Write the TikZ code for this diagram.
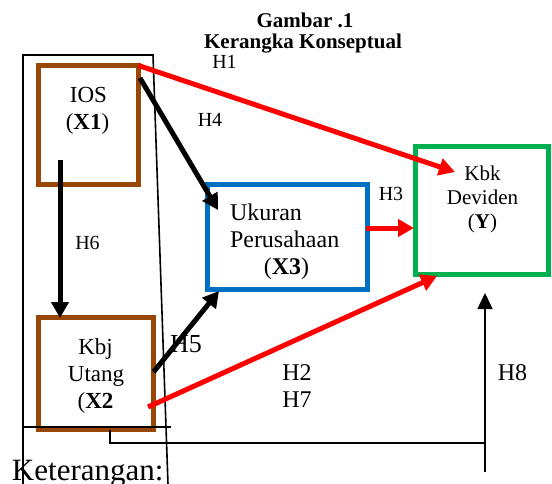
\documentclass[tikz,border=0pt]{standalone}
\usepackage{fontspec}
\setmainfont{Liberation Serif}
\usetikzlibrary{arrows.meta}
\definecolor{brn}{RGB}{152,72,6}
\definecolor{blu}{RGB}{0,112,192}
\definecolor{grn}{RGB}{0,176,80}
\newcommand\myfs[1]{\fontsize{#1}{#1}\selectfont}
\begin{document}
\begin{tikzpicture}[x=1pt,y=-1pt,
  box/.style={draw,line width=5pt,outer sep=0pt,inner sep=0pt},
  bigarrow/.style={line width=5pt,-{Triangle[length=16pt,width=17pt]}},
  thinline/.style={line width=1.6pt},
  txt/.style={anchor=base,inner sep=0pt,outer sep=0pt},
  ltxt/.style={anchor=base west,inner sep=0pt,outer sep=0pt}]
\useasboundingbox (0,0) rectangle (552,483);
% boxes
\node[box,draw=brn,minimum width=100pt,minimum height=119pt] (ios) at (88.5,125) {};
\node[box,draw=brn,minimum width=115pt,minimum height=112pt] (kbj) at (96,373.5) {};
\node[box,draw=blu,minimum width=160pt,minimum height=105pt] (ukr) at (287.5,237) {};
\node[box,draw=grn,minimum width=133pt,minimum height=128pt] (kbk) at (482,210.5) {};
% frame lines
\coordinate (fA) at (23,490);
\coordinate (fB) at (23,55);
\coordinate (fC) at (153,55);
\coordinate (fD) at (168.2,490);
\draw[thinline] (fA) -- (fB) -- (fC) -- (fD);
\coordinate (hL) at (23,427);
\coordinate (hR) at (171,427);
\draw[thinline] (hL) -- (hR);
% title
\node[txt,font=\myfs{21}\bfseries] (t1) at (305,27) {Gambar .1};
\node[txt,font=\myfs{21}\bfseries] (t2) at (303,48) {Kerangka Konseptual};
% box texts
\node[txt,font=\myfs{23}] (iosA) at (88.5,102) {IOS};
\node[txt,font=\myfs{23}] (iosB) at (87.5,129) {(\textbf{X1})};
\node[txt,font=\myfs{23}] (kbjA) at (95.5,354) {Kbj};
\node[txt,font=\myfs{23}] (kbjB) at (96,381) {Utang};
\node[txt,font=\myfs{23}] (kbjC) at (95.5,408) {(\textbf{X2}};
\node[ltxt,font=\myfs{24}] (ukrA) at (230,220) {Ukuran};
\node[ltxt,font=\myfs{24}] (ukrB) at (230,247) {Perusahaan};
\node[txt,font=\myfs{24}] (ukrC) at (286.5,274) {(\textbf{X3})};
\node[txt,font=\myfs{21}] (kbkA) at (482.5,180) {Kbk};
\node[txt,font=\myfs{21}] (kbkB) at (482.5,204) {Deviden};
\node[txt,font=\myfs{21}] (kbkC) at (482.5,228) {(\textbf{Y})};
% hypothesis labels
\node[txt,font=\myfs{20}] (h1) at (224.5,68) {H1};
\node[txt,font=\myfs{20}] (h4) at (210,126) {H4};
\node[txt,font=\myfs{20}] (h3) at (391,200) {H3};
\node[txt,font=\myfs{20}] (h6) at (87.5,249) {H6};
\node[txt,font=\myfs{26}] (h5) at (186,352) {H5};
\node[txt,font=\myfs{24}] (h2) at (297,380) {H2};
\node[txt,font=\myfs{24}] (h7) at (297,407) {H7};
\node[txt,font=\myfs{24}] (h8) at (512.5,380) {H8};
\node[ltxt,font=\myfs{31}] (ket) at (12,480) {Keterangan:};
% arrows
\draw[bigarrow,red] (ios.north east) -- ([shift={(39.5,25.5)}]kbk.north west);
\draw[bigarrow] ([shift={(1.5,12.5)}]ios.north east) -- ([shift={(10.5,25.5)}]ukr.north west);
\draw[bigarrow] ([shift={(-28.5,35)}]ios.center) -- ([shift={(-36,0.5)}]kbj.north);
\draw[bigarrow] ([shift={(0,-1.5)}]kbj.east) -- ([shift={(11.5,1.5)}]ukr.south west);
\draw[bigarrow,red] ([shift={(-5.5,-22.5)}]kbj.south east) -- ([shift={(21.5,1.5)}]kbk.south west);
\draw[bigarrow,red] ([shift={(-1.5,-9)}]ukr.east) -- ([shift={(-1.5,17.5)}]kbk.west);
% control line
\coordinate (cM) at (485,443);
\coordinate (cB) at (485,472);
\draw[thinline] ([shift={(14,0)}]kbj.south) |- (cM);
\draw[thinline,-{Triangle[length=16pt,width=15pt]}] (cB) -- ([shift={(3,18.5)}]kbk.south);
\end{tikzpicture}
\end{document}
